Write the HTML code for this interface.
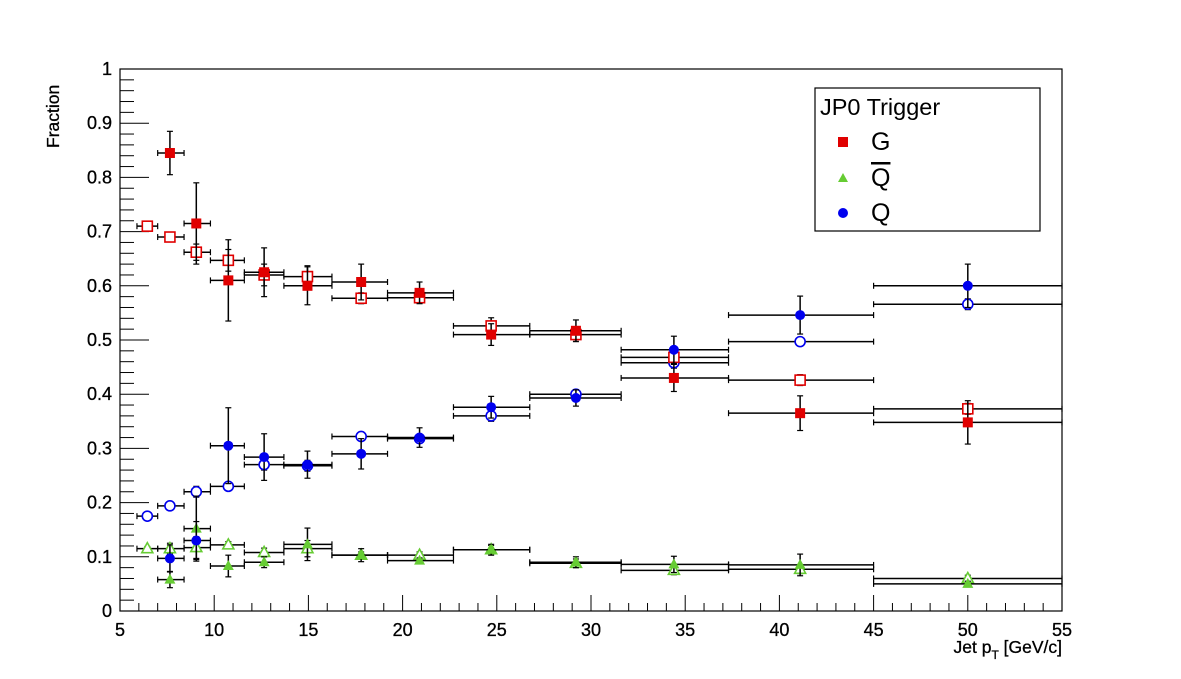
<!DOCTYPE html>
<html><head><meta charset="utf-8"><style>
body{margin:0;background:#fff}
svg{display:block;font-family:"Liberation Sans",Arial,sans-serif}
</style></head><body>
<svg id="chart" width="1181" height="679" viewBox="0 0 1181 679">
<rect x="120" y="69" width="942" height="542" fill="none" stroke="#000" stroke-width="1.2"/>
<g id="axes"></g>
<g id="marks"></g>
<text x="59" y="148" transform="rotate(-90 59 148)" font-size="17.5" stroke="#000" stroke-width="0.3">Fraction</text>
<text x="1062" y="653" text-anchor="end" font-size="17.5" stroke="#000" stroke-width="0.3">Jet p<tspan font-size="12" dy="6">T</tspan><tspan dy="-6"> [GeV/c]</tspan></text>
<g>
<rect x="815" y="88" width="225" height="143" fill="#fff" stroke="#000" stroke-width="1.2"/>
<text x="820" y="115" font-size="23.5">JP0 Trigger</text>
<rect x="838" y="137" width="10" height="10" fill="#e00000"/>
<text x="871" y="150" font-size="25">G</text>
<polygon points="843,173 848,182 838,182" fill="#6c3"/>
<text x="871" y="186" font-size="25" text-decoration="overline">Q</text>
<circle cx="843" cy="213" r="5" fill="#0000ee"/>
<text x="871" y="221" font-size="25">Q</text>
</g>
</svg>
<script>
const binCenterC=[7.65,9.05,10.75,12.65,14.95,17.8,20.9,24.7,29.2,34.4,41.1,50];
const binLoC=[7.0,8.4,9.8,11.6,13.7,16.25,19.2,22.7,26.75,31.6,37.3,45];
const binHiC=[8.4,9.8,11.6,13.7,16.25,19.2,22.7,26.75,31.6,37.3,45,55];
const binCenterO=[6.45,7.65,9.05,10.75,12.65,14.95,17.8,20.9,24.7,29.2,34.4,41.1,50];
const binLoO=[5.9,7.0,8.4,9.8,11.6,13.7,16.25,19.2,22.7,26.75,31.6,37.3,45];
const binHiO=[7.0,8.4,9.8,11.6,13.7,16.25,19.2,22.7,26.75,31.6,37.3,45,55];
const gFilled=[0.845,0.715,0.61,0.625,0.60,0.607,0.587,0.51,0.517,0.43,0.365,0.348];
const gFilledErr=[0.04,0.075,0.075,0.045,0.035,0.033,0.02,0.02,0.02,0.025,0.032,0.04];
const gOpen=[0.71,0.69,0.662,0.647,0.62,0.617,0.577,0.578,0.526,0.51,0.468,0.426,0.373];
const gOpenErr=[0.005,0.005,0.015,0.02,0.02,0.02,0.01,0.01,0.015,0.01,0.012,0.01,0.01];
const qFilled=[0.097,0.13,0.305,0.284,0.27,0.29,0.32,0.376,0.393,0.482,0.546,0.60];
const qFilledErr=[0.025,0.035,0.07,0.043,0.025,0.028,0.018,0.02,0.015,0.025,0.035,0.04];
const qOpen=[0.175,0.194,0.22,0.23,0.27,0.268,0.322,0.318,0.36,0.40,0.458,0.497,0.566];
const qOpenErr=[0.004,0.004,0.01,0.006,0.01,0.01,0.008,0.008,0.01,0.008,0.01,0.008,0.01];
const qbFilled=[0.058,0.152,0.083,0.09,0.123,0.103,0.093,0.113,0.09,0.086,0.085,0.05];
const qbFilledErr=[0.015,0.06,0.02,0.01,0.03,0.012,0.005,0.01,0.01,0.015,0.02,0.005];
const qbOpen=[0.115,0.115,0.117,0.122,0.108,0.115,0.103,0.103,0.113,0.088,0.075,0.077,0.06];
const qbOpenErr=[0.004,0.01,0.02,0.006,0.008,0.015,0.006,0.006,0.008,0.008,0.008,0.008,0.006];
const xTickLabels=["5","10","15","20","25","30","35","40","45","50","55"];
const yTickLabels=["0","0.1","0.2","0.3","0.4","0.5","0.6","0.7","0.8","0.9","1"];

const NS="http://www.w3.org/2000/svg";
const X=v=>120+(v-5)*942/50;
const Y=v=>611-v*542;
function mk(tag,attrs,parent){const e=document.createElementNS(NS,tag);for(const k in attrs)e.setAttribute(k,attrs[k]);parent.appendChild(e);return e;}
const axes=document.getElementById('axes'),marks=document.getElementById('marks');
for(let i=0;i<=50;i++){const v=5+i;const major=i%5===0;
 const t=mk('line',{x1:X(v),x2:X(v),y1:611,y2:611-(major?16:8),stroke:'#000','stroke-width':1},axes);
 
 }
xTickLabels.forEach(s=>{const t=mk('text',{x:X(+s),y:636,'text-anchor':'middle','font-size':18,stroke:'#000','stroke-width':0.3},axes);t.textContent=s;
 
 });
for(let i=0;i<=50;i++){const v=i*0.02;const major=i%5===0;
 const t=mk('line',{x1:120,x2:120+(major?29:14),y1:Y(v),y2:Y(v),stroke:'#000','stroke-width':1},axes);
 
 }
yTickLabels.forEach(s=>{const t=mk('text',{x:112,y:Y(+s)+6,'text-anchor':'end','font-size':18,stroke:'#000','stroke-width':0.3},axes);t.textContent=s;
 
 });

function series(name,xs,lo,hi,ys,es,color,shape,filled){
 const g=mk('g',{},marks);
 
 
 ys.forEach((y,i)=>{
  const cx=X(xs[i]),cy=Y(y);
  mk('line',{x1:X(lo[i]),x2:X(hi[i]),y1:cy,y2:cy,stroke:'#000','stroke-width':1.5},g);
  mk('line',{x1:X(lo[i]),x2:X(lo[i]),y1:cy-3,y2:cy+3,stroke:'#000','stroke-width':1.2},g);
  mk('line',{x1:X(hi[i]),x2:X(hi[i]),y1:cy-3,y2:cy+3,stroke:'#000','stroke-width':1.2},g);
  const e1=Y(y+es[i]),e2=Y(y-es[i]);
  mk('line',{x1:cx,x2:cx,y1:e1,y2:e2,stroke:'#000','stroke-width':1.5},g);
  mk('line',{x1:cx-3,x2:cx+3,y1:e1,y2:e1,stroke:'#000','stroke-width':1.2},g);
  mk('line',{x1:cx-3,x2:cx+3,y1:e2,y2:e2,stroke:'#000','stroke-width':1.2},g);
  const st=filled?{fill:color}:{fill:'#fff',stroke:color,'stroke-width':1.6};
  let m;
  if(shape==='sq')m=mk('rect',Object.assign({x:cx-5,y:cy-5,width:10,height:10},st),g);
  else if(shape==='ci')m=mk('circle',Object.assign({cx:cx,cy:cy,r:5},st),g);
  else m=mk('polygon',Object.assign({points:`${cx},${cy-6} ${cx+5.5},${cy+4} ${cx-5.5},${cy+4}`},st),g);
  
  
 });
}
series('qbar-open',binCenterO,binLoO,binHiO,qbOpen,qbOpenErr,'#6c3','tri',false);
series('q-open',binCenterO,binLoO,binHiO,qOpen,qOpenErr,'#0000ee','ci',false);
series('g-open',binCenterO,binLoO,binHiO,gOpen,gOpenErr,'#e00000','sq',false);
series('qbar-filled',binCenterC,binLoC,binHiC,qbFilled,qbFilledErr,'#6c3','tri',true);
series('q-filled',binCenterC,binLoC,binHiC,qFilled,qFilledErr,'#0000ee','ci',true);
series('g-filled',binCenterC,binLoC,binHiC,gFilled,gFilledErr,'#e00000','sq',true);
</script>
</body></html>
